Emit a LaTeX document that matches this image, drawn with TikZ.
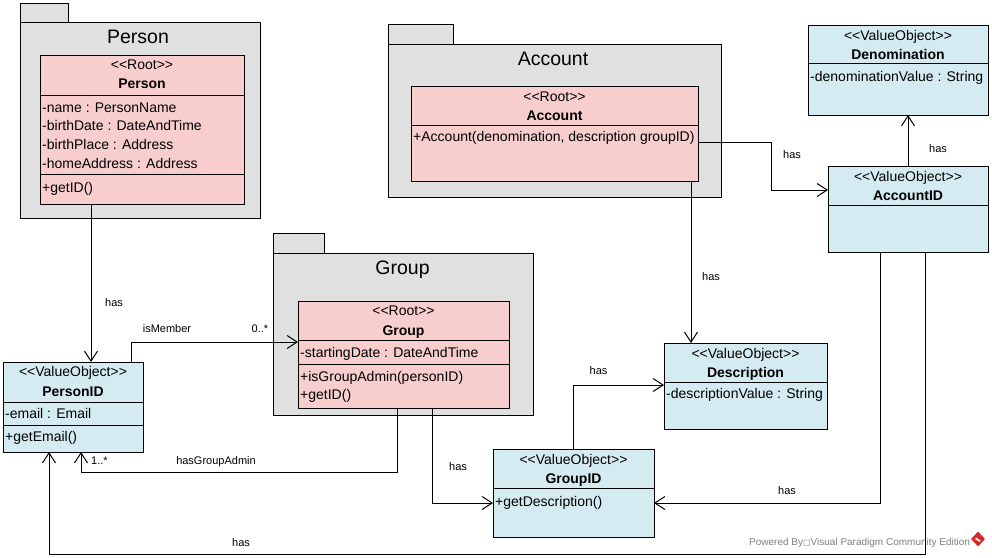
\documentclass[tikz,border=0pt]{standalone}
\usepackage{fontspec}
\setmainfont{Liberation Sans}
\newfontfamily\dejavu{DejaVu Sans}
\usetikzlibrary{arrows.meta,shapes.geometric}
\definecolor{pkggray}{RGB}{224,224,224}
\definecolor{rootpink}{RGB}{247,206,205}
\definecolor{voblue}{RGB}{213,235,242}
\definecolor{wmgray}{RGB}{128,128,128}
\definecolor{vpred}{RGB}{214,38,38}
\newcommand{\stRoot}{<{}<Root>{}>}
\newcommand{\stVO}{<{}<ValueObject>{}>}
\tikzset{
  box/.style={draw=black, line width=1pt, inner sep=0pt, outer sep=0pt, anchor=north west},
  pkg/.style={box, fill=pkggray},
  rootcls/.style={box, fill=rootpink},
  vocls/.style={box, fill=voblue},
  ptitle/.style={font=\fontsize{19.5}{22}\selectfont, inner sep=0pt, anchor=base},
  stereo/.style={font=\fontsize{14}{16}\selectfont, inner sep=0pt, anchor=base},
  cname/.style={font=\fontsize{14}{16}\selectfont\bfseries, inner sep=0pt, anchor=base},
  member/.style={font=\fontsize{14}{16}\selectfont, inner sep=0pt, anchor=base west},
  lbl/.style={font=\fontsize{11}{13}\selectfont, inner sep=0pt, anchor=base},
  conn/.style={line width=1pt, -{Straight Barb[length=10pt,width=13pt]}},
  divider/.style={line width=1pt},
}
\begin{document}
\begin{tikzpicture}[x=1pt,y=-1pt]
\useasboundingbox (0,0) rectangle (992,557);
\fill[white] (0,0) rectangle (992,557);

% watermark
\node[font=\fontsize{10}{12}\selectfont, text=wmgray, anchor=base west, inner sep=0pt] (wm) at (749,545) {Powered By{\dejavu\fontsize{8}{9}\selectfont □}Visual Paradigm Community Edition};
\node[diamond, fill=vpred, minimum width=14pt, minimum height=15pt, inner sep=0pt] (logo) at (978,539) {};
\fill[white] (logo.center) ++(-2,-1.5) -- ++(4.5,3) -- ++(-1,1.5) -- ++(-4.5,-3) -- cycle;

% ---------- Person package ----------
\node[pkg, minimum width=48pt, minimum height=20pt] (personpkgtab) at (20,3) {};
\node[pkg, minimum width=240pt, minimum height=196pt] (personpkg) at (20,22) {};
\node[ptitle] (personpkgtitle) at (138,43) {Person};
\node[rootcls, minimum width=204pt, minimum height=149pt] (person) at (40,55) {};
\draw[divider] (person.west |- 0,95) -- (person.east |- 0,95);
\draw[divider] (person.west |- 0,174) -- (person.east |- 0,174);
\node[stereo] (personst) at (142,69) {\stRoot};
\node[cname] (personnm) at (142,88) {Person};
\node[member] (pa1) at (42,112) {-name : PersonName};
\node[member] (pa2) at (42,130.5) {-birthDate : DateAndTime};
\node[member] (pa3) at (42,149) {-birthPlace : Address};
\node[member] (pa4) at (42,168) {-homeAddress : Address};
\node[member] (po1) at (42,192) {+getID()};

% ---------- Account package ----------
\node[pkg, minimum width=65pt, minimum height=20pt] (accountpkgtab) at (388,24) {};
\node[pkg, minimum width=333pt, minimum height=153pt] (accountpkg) at (388,44) {};
\node[ptitle] (accountpkgtitle) at (553,65) {Account};
\node[rootcls, minimum width=287pt, minimum height=95pt] (account) at (411,86) {};
\draw[divider] (account.west |- 0,125) -- (account.east |- 0,125);
\node[stereo] (accountst) at (554.5,101) {\stRoot};
\node[cname] (accountnm) at (554.5,120) {Account};
\node[member] (ao1) at (413,141) {+Account(denomination, description groupID)};

% ---------- Group package ----------
\node[pkg, minimum width=51pt, minimum height=20pt] (grouppkgtab) at (273,233) {};
\node[pkg, minimum width=260pt, minimum height=162pt] (grouppkg) at (273,253) {};
\node[ptitle] (grouppkgtitle) at (402.5,274) {Group};
\node[rootcls, minimum width=211pt, minimum height=107pt] (group) at (298,301) {};
\draw[divider] (group.west |- 0,340) -- (group.east |- 0,340);
\draw[divider] (group.west |- 0,364) -- (group.east |- 0,364);
\node[stereo] (groupst) at (403.5,315.5) {\stRoot};
\node[cname] (groupnm) at (403.5,335) {Group};
\node[member] (ga1) at (300,357) {-startingDate : DateAndTime};
\node[member] (go1) at (300,381) {+isGroupAdmin(personID)};
\node[member] (go2) at (300,399.5) {+getID()};

% ---------- Value objects ----------
\node[vocls, minimum width=180pt, minimum height=90pt] (denomination) at (808,25) {};
\draw[divider] (denomination.west |- 0,63) -- (denomination.east |- 0,63);
\node[stereo] (denomst) at (898,40.5) {\stVO};
\node[cname] (denomnm) at (898,59) {Denomination};
\node[member] (da1) at (810,81) {-denominationValue : String};

\node[vocls, minimum width=160pt, minimum height=86pt] (accountid) at (828,166) {};
\draw[divider] (accountid.west |- 0,205) -- (accountid.east |- 0,205);
\node[stereo] (accidst) at (908,181) {\stVO};
\node[cname] (accidnm) at (908,200) {AccountID};

\node[vocls, minimum width=140pt, minimum height=90pt] (personid) at (3,362) {};
\draw[divider] (personid.west |- 0,402) -- (personid.east |- 0,402);
\draw[divider] (personid.west |- 0,425) -- (personid.east |- 0,425);
\node[stereo] (pidst) at (73,376.5) {\stVO};
\node[cname] (pidnm) at (73,396) {PersonID};
\node[member] (pida1) at (5,418) {-email : Email};
\node[member] (pido1) at (5,441) {+getEmail()};

\node[vocls, minimum width=163pt, minimum height=86pt] (description) at (664,343) {};
\draw[divider] (description.west |- 0,382) -- (description.east |- 0,382);
\node[stereo] (descst) at (745.5,358.5) {\stVO};
\node[cname] (descnm) at (745.5,377) {Description};
\node[member] (desca1) at (666,398) {-descriptionValue : String};

\node[vocls, minimum width=161pt, minimum height=88pt] (groupid) at (493,449) {};
\draw[divider] (groupid.west |- 0,488) -- (groupid.east |- 0,488);
\node[stereo] (gidst) at (573.5,464) {\stVO};
\node[cname] (gidnm) at (573.5,483) {GroupID};
\node[member] (gido1) at (495,506) {+getDescription()};

% ---------- Connectors ----------
\draw[conn] (person.south -| 91,0) -- (personid.north -| 91,0);
\draw[conn] (personid.north -| 131,0) |- (group.west |- 0,342);
\draw[conn] (group.south -| 397,0) -- ++(0,64) -| (personid.south -| 81,0);
\draw[conn] (group.south -| 432,0) |- (groupid.west |- 0,503);
\draw[conn] (account.east |- 0,142) -- (771,142) |- (accountid.west |- 0,190);
\draw[conn] (account.south -| 691,0) -- (description.north -| 691,0);
\draw[conn] (accountid.north -| 908,0) -- (denomination.south -| 908,0);
\draw[conn] (groupid.north -| 573,0) |- (description.west |- 0,385);
\draw[conn] (accountid.south -| 880,0) |- (groupid.east |- 0,503);
\draw[conn] (accountid.south -| 925,0) -- (925,554) -| (personid.south -| 49,0);

% ---------- Labels ----------
\node[lbl] (l1) at (114,306) {has};
\node[lbl] (l2) at (167,332) {isMember};
\node[lbl] (l3) at (260,332) {0..*};
\node[lbl] (l4) at (216,464) {hasGroupAdmin};
\node[lbl] (l5) at (99.5,464) {1..*};
\node[lbl] (l6) at (458,470) {has};
\node[lbl] (l7) at (792,158) {has};
\node[lbl] (l8) at (711,280) {has};
\node[lbl] (l9) at (938,152) {has};
\node[lbl] (l10) at (598.5,374) {has};
\node[lbl] (l11) at (787,494) {has};
\node[lbl] (l12) at (241,546) {has};
\end{tikzpicture}
\end{document}
